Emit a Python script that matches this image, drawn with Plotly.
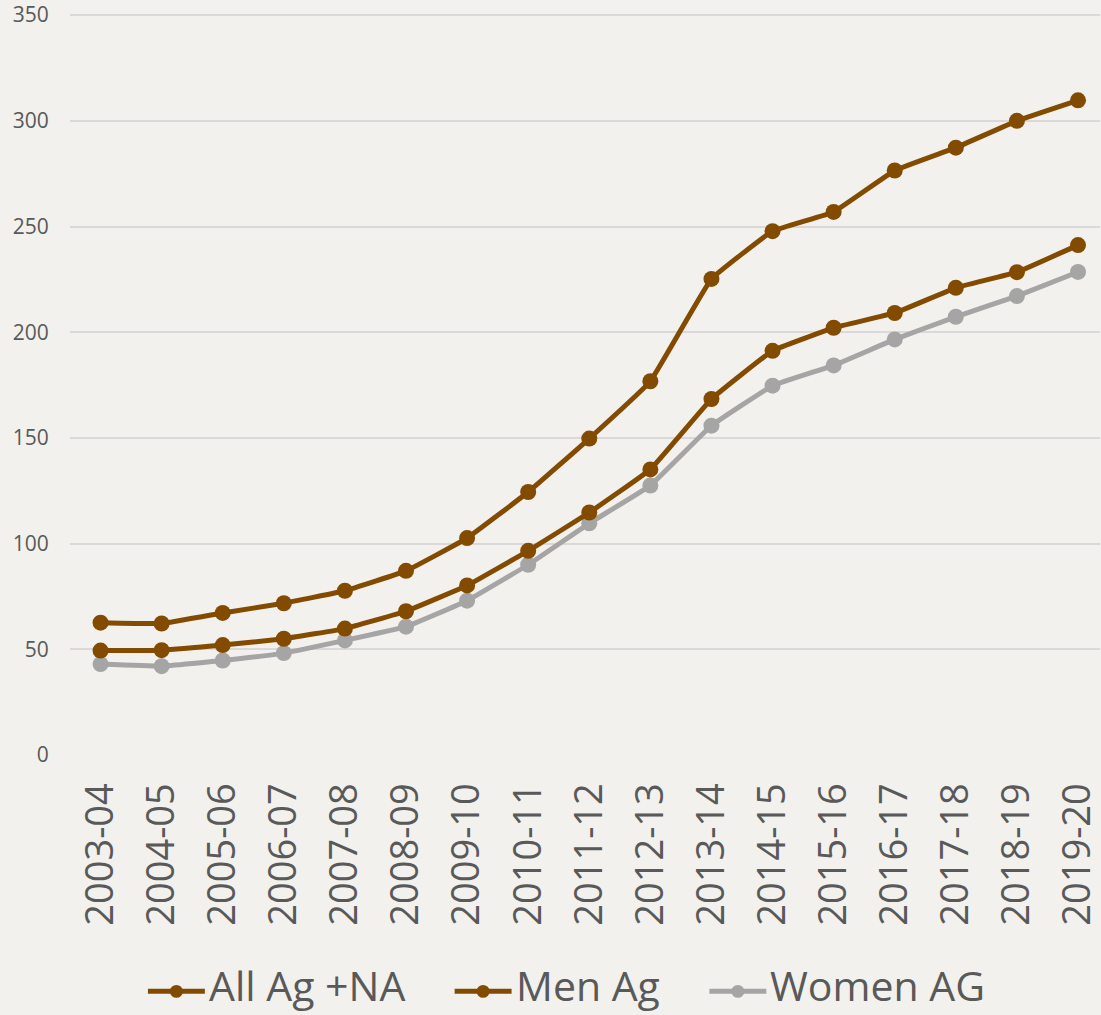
import plotly.graph_objects as go

years = ["2003-04", "2004-05", "2005-06", "2006-07", "2007-08", "2008-09", "2009-10",
         "2010-11", "2011-12", "2012-13", "2013-14", "2014-15", "2015-16", "2016-17",
         "2017-18", "2018-19", "2019-20"]
all_ag_na = [62.6, 62.2, 67.2, 71.8, 77.7, 87.1, 102.6, 124.4, 149.7, 176.8, 225.2,
             247.8, 256.9, 276.5, 287.3, 300.0, 309.7]
men_ag = [49.4, 49.6, 52.0, 55.0, 59.8, 68.0, 80.2, 96.6, 114.7, 135.1, 168.4,
          191.2, 202.1, 209.1, 221.0, 228.4, 241.2]
women_ag = [43.0, 42.0, 44.7, 48.2, 54.2, 60.7, 73.0, 90.0, 109.6, 127.5, 155.8,
            174.7, 184.3, 196.6, 207.3, 217.1, 228.5]
y_ticks = [0, 50, 100, 150, 200, 250, 300, 350]
legend_names = ["All Ag +NA", "Men Ag", "Women AG"]

BROWN = "#834B00"
GRAY = "#A5A5A5"
BG = "#F2F1EE"
TXT = "#595959"
FONT = "Open Sans"

W, H = 1101, 1015
ML, MR, MT, MB = 70, 0, 11, 260
PW, PH = W - ML - MR, H - MT - MB

def px_x(px):
    return (px - ML) / PW

def px_y(py):
    return (H - MB - py) / PH

x_idx = list(range(len(years)))

fig = go.Figure()
series = [
    ("Women AG", women_ag, GRAY),
    ("Men Ag", men_ag, BROWN),
    ("All Ag +NA", all_ag_na, BROWN),
]
for name, vals, col in series:
    fig.add_trace(go.Scatter(
        x=x_idx, y=vals, name=name, mode="lines+markers",
        line=dict(color=col, width=5, shape="spline", smoothing=0.25),
        marker=dict(color=col, size=16),
        showlegend=False,
    ))

# custom legend (layout positions in pixels)
legend_cols = [BROWN, BROWN, GRAY]
legend_sym_x = [148, 455, 710]
sym_len = 57
leg_y = 992
shapes = []
annotations = []
for name, col, sx in zip(legend_names, legend_cols, legend_sym_x):
    shapes.append(dict(type="line", xref="paper", yref="paper",
                       x0=px_x(sx), x1=px_x(sx + sym_len), y0=px_y(leg_y), y1=px_y(leg_y),
                       line=dict(color=col, width=5)))
    cx = sx + sym_len / 2
    r = 6.5
    shapes.append(dict(type="circle", xref="paper", yref="paper",
                       x0=px_x(cx - r), x1=px_x(cx + r), y0=px_y(leg_y + r), y1=px_y(leg_y - r),
                       fillcolor=col, line=dict(color=col, width=0)))
    annotations.append(dict(text=name, xref="paper", yref="paper",
                            x=px_x(sx + sym_len + 2), y=px_y(986),
                            xanchor="left", yanchor="middle", showarrow=False,
                            font=dict(size=41, color=TXT, family=FONT)))

fig.update_layout(
    width=W, height=H,
    paper_bgcolor=BG, plot_bgcolor=BG,
    margin=dict(l=ML, r=MR, t=MT, b=MB),
    font=dict(family=FONT, color=TXT),
    showlegend=False,
    shapes=shapes,
    annotations=annotations,
    xaxis=dict(
        range=[-0.5, 16.36], tickmode="array", tickvals=x_idx, ticktext=years,
        tickangle=-90, tickfont=dict(size=38, color=TXT, family=FONT),
        showgrid=False, zeroline=False, showline=False,
        ticks="outside", ticklen=12, tickcolor="rgba(0,0,0,0)",
        ticklabeloverflow="allow",
    ),
    yaxis=dict(
        range=[0, 351], tickmode="array", tickvals=y_ticks,
        tickfont=dict(size=21, color=TXT, family=FONT),
        showgrid=True, gridcolor="#D9D9D9", gridwidth=1.5,
        zeroline=False, showline=False,
        ticks="outside", ticklen=16, tickcolor="rgba(0,0,0,0)",
        ticklabeloverflow="allow",
    ),
)

fig.write_html("out.html", config={"displayModeBar": False},
               post_script="document.body.style.margin='0';document.body.style.overflow='hidden';")
